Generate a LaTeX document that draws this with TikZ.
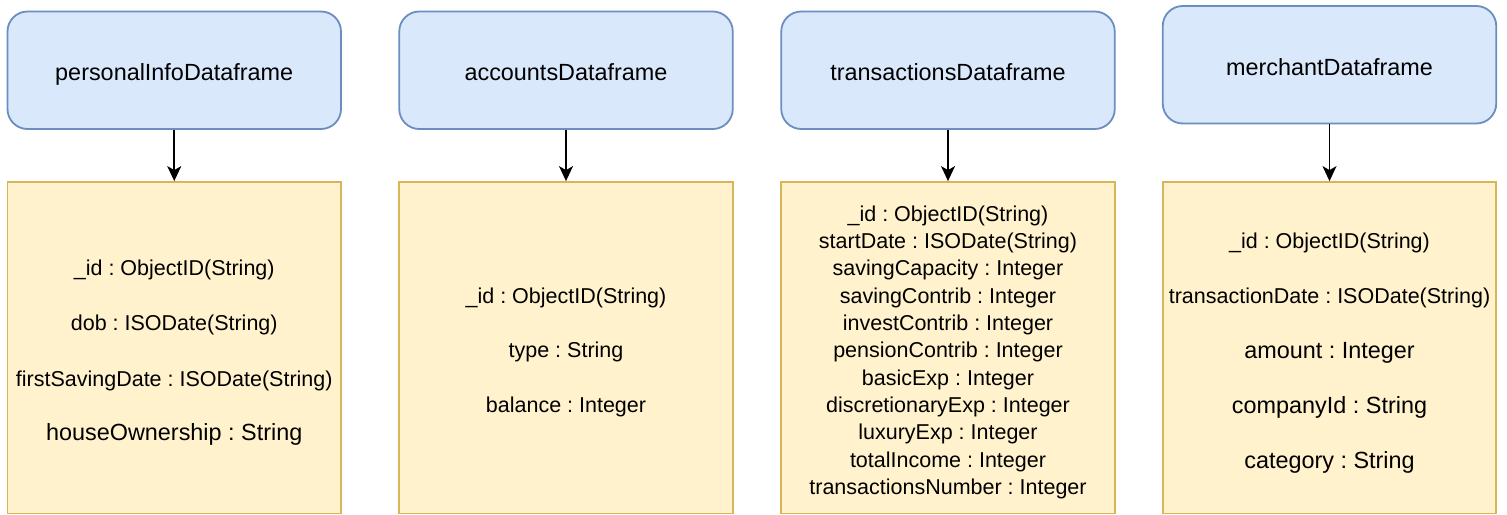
\documentclass[tikz,border=0pt]{standalone}
\usepackage{fontspec}
\setmainfont{Liberation Sans}
\usetikzlibrary{arrows.meta}
\frenchspacing
\definecolor{headfill}{HTML}{DAE8FC}
\definecolor{headline}{HTML}{6C8EBF}
\definecolor{bodyfill}{HTML}{FFF2CC}
\definecolor{bodyline}{HTML}{D6B656}
\tikzset{
  header/.style={draw=headline, fill=headfill, line width=1.8pt, rounded corners=20pt,
    minimum width=333.5pt, minimum height=117.5pt, inner sep=0pt,
    font=\fontsize{23.4}{28}\selectfont, text height=20.5pt, text depth=0pt},
  body/.style={draw=bodyline, fill=bodyfill, line width=1.8pt,
    minimum width=333.5pt, minimum height=331.5pt, inner sep=0pt},
  fieldsm/.style={anchor=base, inner sep=0pt, font=\fontsize{21.5}{26}\selectfont},
  fieldlg/.style={anchor=base, inner sep=0pt, font=\fontsize{23.4}{28}\selectfont},
  link/.style={line width=1.6pt, -{Stealth[length=15pt,width=14pt,inset=4pt]}},
}
\begin{document}
\begin{tikzpicture}[x=1pt, y=-1pt]
  \useasboundingbox (0,0) rectangle (1507,514);

  % header boxes
  \node[header] (h1) at (174.25,70.25) {personalInfoDataframe};
  \node[header] (h2) at (566,70.25) {accountsDataframe};
  \node[header] (h3) at (948,70.25) {transactionsDataframe};
  \node[header] (h4) at (1329.5,64.75) {merchantDataframe};

  % field boxes
  \node[body] (b1) at (174.25,347.75) {};
  \node[body] (b2) at (566,347.75) {};
  \node[body] (b3) at (948,347.75) {};
  \node[body] (b4) at (1329.5,347.75) {};

  % connectors
  \draw[link] (h1.south) -- (b1.north);
  \draw[link] (h2.south) -- (b2.north);
  \draw[link] (h3.south) -- (b3.north);
  \draw[link] (h4.south) -- (b4.north);

  % personalInfoDataframe fields
  \node[fieldsm] (p1) at (174.25,275) {\_id : ObjectID(String)};
  \node[fieldsm] (p2) at (174.25,330.5) {dob : ISODate(String)};
  \node[fieldsm] (p3) at (174.25,386) {firstSavingDate : ISODate(String)};
  \node[fieldlg] (p4) at (174.25,440.5) {houseOwnership : String};

  % accountsDataframe fields
  \node[fieldsm] (a1) at (566,303.5) {\_id : ObjectID(String)};
  \node[fieldsm] (a2) at (566,357.5) {type : String};
  \node[fieldsm] (a3) at (566,412.5) {balance : Integer};

  % transactionsDataframe fields
  \foreach \txt [count=\i from 0] in {%
      \_id : ObjectID(String),
      startDate : ISODate(String),
      savingCapacity : Integer,
      savingContrib : Integer,
      investContrib : Integer,
      pensionContrib : Integer,
      basicExp : Integer,
      discretionaryExp : Integer,
      luxuryExp : Integer,
      totalIncome : Integer,
      transactionsNumber : Integer}
    \node[fieldsm] (t\i) at (948,221+27.35*\i) {\txt};

  % merchantDataframe fields
  \node[fieldsm] (m1) at (1329.5,248.5) {\_id : ObjectID(String)};
  \node[fieldsm] (m2) at (1329.5,303.5) {transactionDate : ISODate(String)};
  \node[fieldlg] (m3) at (1329.5,358) {amount : Integer};
  \node[fieldlg] (m4) at (1329.5,413) {companyId : String};
  \node[fieldlg] (m5) at (1329.5,468) {category : String};
\end{tikzpicture}
\end{document}
